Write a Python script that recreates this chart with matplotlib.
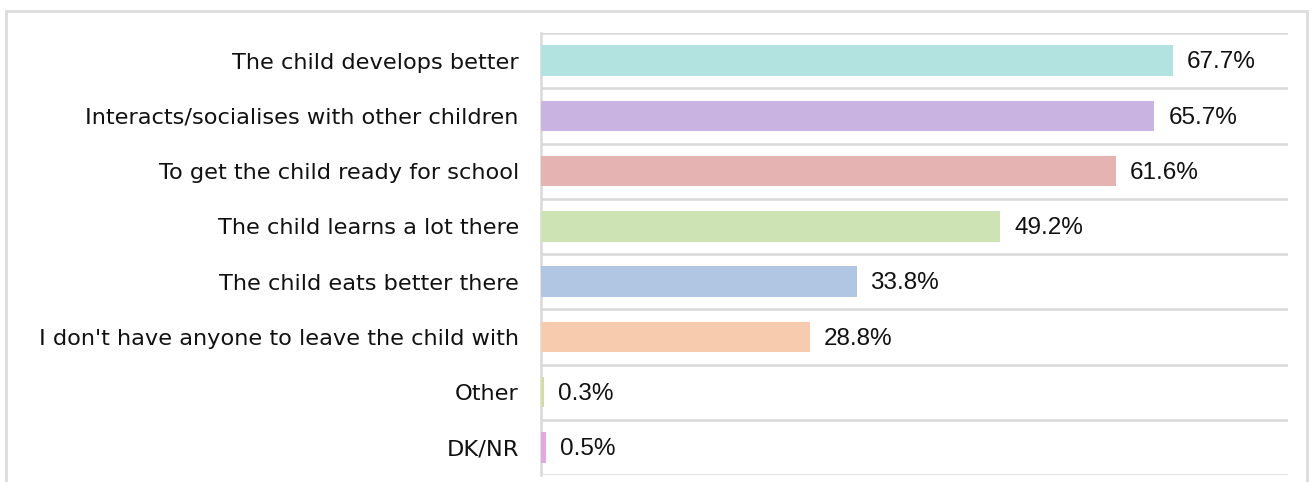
#!/usr/bin/env python3

import matplotlib
matplotlib.use('Agg')
import matplotlib.pyplot as plt
from matplotlib.patches import Rectangle
import numpy as np

# reasons for sending the child to preschool
categories = ['The child develops better',
              'Interacts/socialises with other children',
              'To get the child ready for school',
              'The child learns a lot there',
              'The child eats better there',
              "I don't have anyone to leave the child with",
              'Other',
              'DK/NR']
values = [67.7, 65.7, 61.6, 49.2, 33.8, 28.8, 0.3, 0.5]
colors = ['#b2e3e1', '#c9b3e0', '#e4b3b2', '#cde3b3',
          '#b0c6e3', '#f7cbad', '#d6dca6', '#e4a8e0']

W, H = 1314, 482
fig = plt.figure(figsize=(W / 100, H / 100), dpi=100)
fig.patch.set_facecolor('white')

# outer frame
fig.patches.append(Rectangle((6 / W, -0.05), 1301 / W, 1 - 11 / H + 0.05,
                             transform=fig.transFigure, fill=False,
                             edgecolor='#dcdcdc', linewidth=2))

ax = fig.add_axes([541 / W, 1 - 475 / H, (1288 - 541) / W, (475 - 33) / H])

y = np.arange(len(categories))
ax.barh(y, values, height=0.55, color=colors, zorder=3)
ax.set_ylim(len(categories) - 0.5, -0.5)
ax.set_xlim(0, 80)

# lines between categories
for b in np.arange(-0.5, len(categories), 1.0):
    ax.axhline(b, color='#d9d9d9', linewidth=1.8, zorder=0)

for i, v in enumerate(values):
    ax.annotate(f'{v:.1f}%', (v, i + 0.03), xytext=(10, 0), textcoords='offset points',
                va='center', ha='left', fontsize=17.5, family='Liberation Sans',
                color='#111111')

ax.set_yticks(y)
ax.set_yticklabels(categories, fontsize=16.2, family='DejaVu Sans', color='#111111')
ax.tick_params(axis='y', length=0, pad=16)
ax.set_xticks([])
for s in ['top', 'right', 'bottom']:
    ax.spines[s].set_visible(False)
ax.spines['left'].set_color('#d9d9d9')
ax.spines['left'].set_linewidth(1.8)

plt.savefig('out.png', dpi=100)
plt.close()
